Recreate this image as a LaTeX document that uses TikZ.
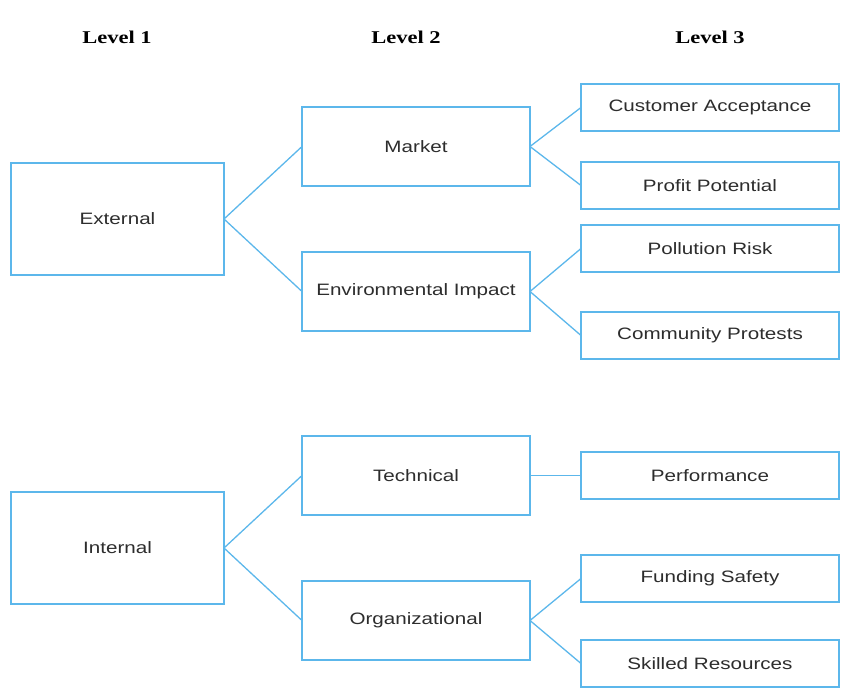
\documentclass[tikz,border=0pt]{standalone}
\usepackage{fontspec}
\setmainfont{Liberation Serif}
\setsansfont[FakeStretch=1.25]{Liberation Sans}
\newfontfamily\headfont[FakeStretch=1.25]{Liberation Serif}
\usetikzlibrary{positioning}

\begin{document}
\begin{tikzpicture}[x=1pt,y=-1pt,font=\sffamily]

		\definecolor{LineBlue}{RGB}{92,183,235}
		\definecolor{TextGray}{RGB}{45,45,45}

		\tikzset{
			levelHead/.style={
				font=\headfont\bfseries\fontsize{18}{21}\selectfont,
				text=black,
			},
			treeBox/.style={
				draw=LineBlue,
				line width=1.4pt,
				fill=white,
				text=TextGray,
				font=\sffamily\fontsize{16.5}{19}\selectfont,
				inner sep=0,
				outer sep=0pt,
			},
			lvlOneBox/.style={treeBox, minimum width=213, minimum height=112},
			lvlTwoBox/.style={treeBox, minimum width=228, minimum height=79},
			lvlThreeBox/.style={treeBox, minimum width=258, minimum height=47},
			treeLink/.style={draw=LineBlue, line width=1.3pt},
		}

		\useasboundingbox (0,0) rectangle (857,695);

		% Headings
		\node[levelHead] (headOne) at (117,37) {Level 1};
		\node[levelHead] (headTwo) at (406,37) {Level 2};
		\node[levelHead] (headThree) at (710,37) {Level 3};

		% Level 1
		\node[lvlOneBox] (external) at (117.5,219) {External};
		\node[lvlOneBox] (internal) at (117.5,548) {Internal};

		% Level 2
		\node[lvlTwoBox] (market) at (416,146.5) {Market};
		\node[lvlTwoBox] (environ) at (416,291.5) {Environmental Impact};
		\node[lvlTwoBox] (technical) at (416,475.5) {Technical};
		\node[lvlTwoBox] (organiz) at (416,620.5) {Organizational};

		% Level 3
		\node[lvlThreeBox] (customer) at (710,107.5) {Customer Acceptance};
		\node[lvlThreeBox] (profit) at (710,185.5) {Profit Potential};
		\node[lvlThreeBox] (pollution) at (710,248.5) {Pollution Risk};
		\node[lvlThreeBox] (community) at (710,335.5) {Community Protests};
		\node[lvlThreeBox] (perform) at (710,475.5) {Performance};
		\node[lvlThreeBox] (funding) at (710,578.5) {Funding Safety};
		\node[lvlThreeBox] (skilled) at (710,663.5) {Skilled Resources};

		% Links
		\foreach \a/\b in {external/market, external/environ, internal/technical, internal/organiz,
			market/customer, market/profit, environ/pollution, environ/community,
			technical/perform, organiz/funding, organiz/skilled} {
			\draw[treeLink] (\a.east) -- (\b.west);
		}

	\end{tikzpicture}
\end{document}
